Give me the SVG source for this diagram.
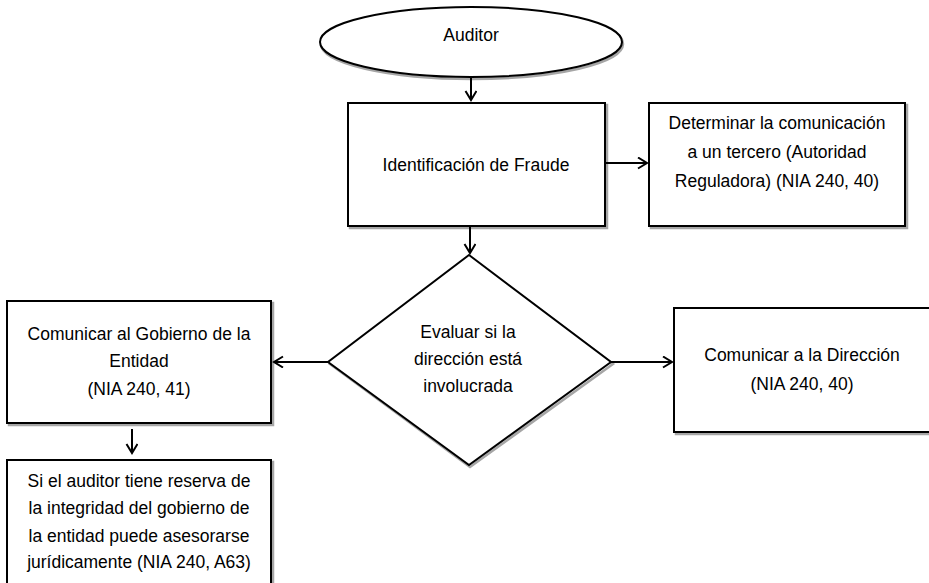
<svg xmlns="http://www.w3.org/2000/svg" width="929" height="583" viewBox="0 0 929 583">
<style>
.sh{fill:none;stroke:#a6a6a6;stroke-width:2.5}
.nd{fill:#fff;stroke:#000;stroke-width:2}
.tx{font-family:"Liberation Sans",Arial,sans-serif;font-size:17.5px;fill:#000;text-anchor:middle}
.cn{stroke:#000;stroke-width:2;fill:none;marker-end:url(#ah)}
</style>
<defs>
<marker id="ah" markerUnits="userSpaceOnUse" markerWidth="14" markerHeight="14" refX="10" refY="6" orient="auto">
<path d="M1,0.5 L10,6 L1,11.5" fill="none" stroke="#000" stroke-width="2"/>
</marker>
</defs>
<rect width="929" height="583" fill="#fff"/>
<g id="auditor">
<ellipse class="sh" cx="472" cy="44" rx="151" ry="35"/>
<ellipse class="nd" cx="471" cy="42" rx="151" ry="35"/>
<text class="tx" x="471" y="41">Auditor</text>
</g>
<g id="identificacion">
<rect class="sh" x="350" y="105" width="257" height="123"/>
<rect class="nd" x="348" y="103" width="257" height="123"/>
<text class="tx" x="476" y="171">Identificación de Fraude</text>
</g>
<g id="determinar">
<rect class="sh" x="651" y="105" width="256" height="123"/>
<rect class="nd" x="649" y="103" width="256" height="123"/>
<text class="tx" x="777" y="129">Determinar la comunicación</text>
<text class="tx" x="777" y="158">a un tercero (Autoridad</text>
<text class="tx" x="777" y="187">Reguladora) (NIA 240, 40)</text>
</g>
<g id="evaluar">
<polygon class="sh" points="470,257 613,364 470,467 330,364"/>
<polygon class="nd" points="469,255 611,362 469,465 328,362"/>
<text class="tx" x="468" y="338">Evaluar si la</text>
<text class="tx" x="468" y="365">dirección está</text>
<text class="tx" x="468" y="392">involucrada</text>
</g>
<g id="gobierno">
<rect class="sh" x="9" y="303" width="264" height="122"/>
<rect class="nd" x="7" y="301" width="264" height="122"/>
<text class="tx" x="139" y="340">Comunicar al Gobierno de la</text>
<text class="tx" x="139" y="367">Entidad</text>
<text class="tx" x="139" y="395">(NIA 240, 41)</text>
</g>
<g id="reserva">
<rect class="sh" x="9" y="462" width="264" height="124"/>
<rect class="nd" x="7" y="460" width="264" height="124"/>
<text class="tx" x="139" y="487">Si el auditor tiene reserva de</text>
<text class="tx" x="139" y="514">la integridad del gobierno de</text>
<text class="tx" x="139" y="542">la entidad puede asesorarse</text>
<text class="tx" x="139" y="568">jurídicamente (NIA 240, A63)</text>
</g>
<g id="direccion">
<rect class="sh" x="676" y="310" width="262" height="124"/>
<rect class="nd" x="674" y="308" width="262" height="124"/>
<text class="tx" x="802" y="361">Comunicar a la Dirección</text>
<text class="tx" x="802" y="390">(NIA 240, 40)</text>
</g>
<g id="connectors">
<line class="cn" x1="471" y1="77" x2="471" y2="100"/>
<line class="cn" x1="605" y1="163" x2="647" y2="163"/>
<line class="cn" x1="470" y1="226" x2="470" y2="253"/>
<line class="cn" x1="328" y1="362" x2="274" y2="362"/>
<line class="cn" x1="611" y1="362" x2="672" y2="362"/>
<line class="cn" x1="132" y1="429" x2="132" y2="453"/>
</g>
</svg>
